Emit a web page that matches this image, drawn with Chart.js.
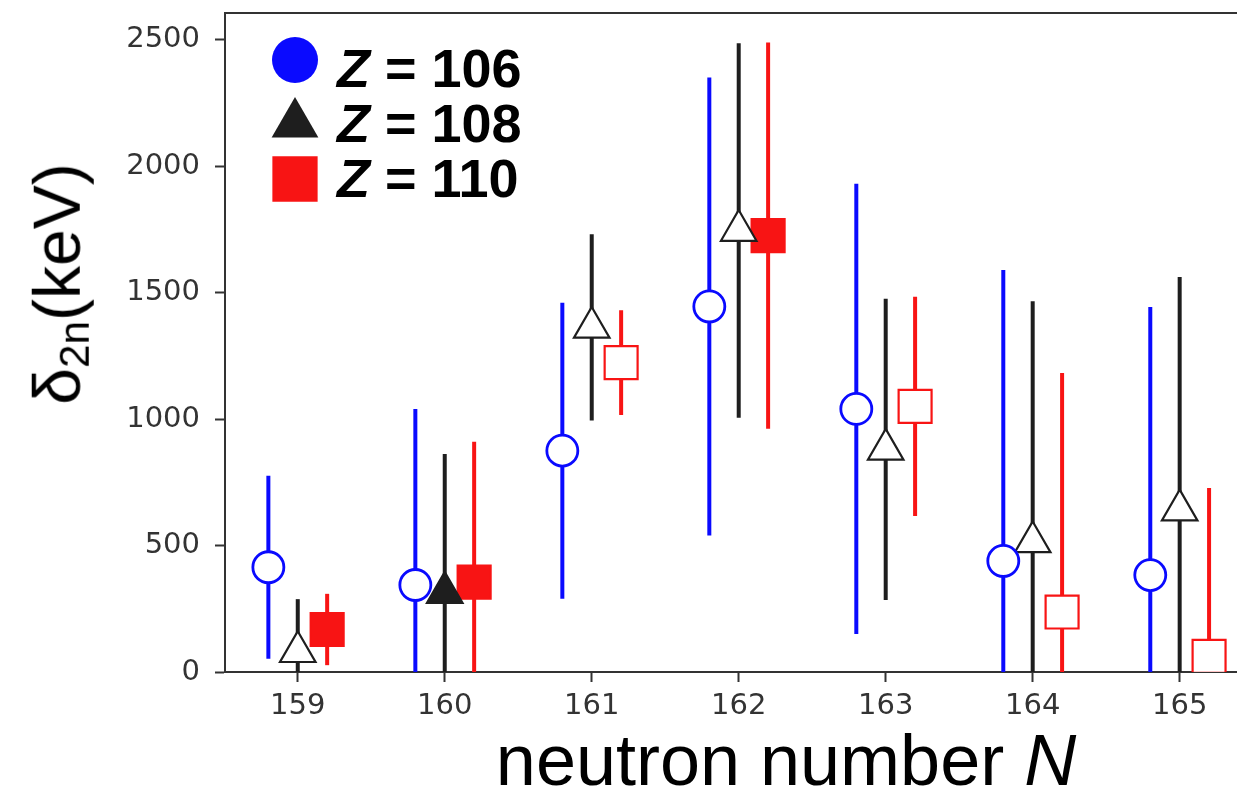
<!DOCTYPE html>
<html>
<head>
<meta charset="utf-8">
<script src="https://cdn.jsdelivr.net/npm/chart.js@4.4.1/dist/chart.umd.min.js"></script>
<style>
  html, body { margin: 0; padding: 0; background: #fff; overflow: hidden; }
  #wrap { position: relative; width: 1237px; height: 794px; }
  #chart { position: absolute; left: 0; top: 0; }
  .axis-title { position: absolute; font-family: "Liberation Sans", Arial, sans-serif; color: #000; white-space: nowrap; line-height: 1; }
  #xtitle { left: 786px; top: 724px; font-size: 72px; transform: translateX(-50%); }
  #ytitle { left: 60px; top: 284px; font-size: 66px; transform: translate(-50%, -50%) rotate(-90deg); }
  #ytitle sub { font-size: 0.64em; line-height: 1; vertical-align: -0.22em; }
</style>
</head>
<body>
<div id="wrap">
  <canvas id="chart" width="1237" height="794"></canvas>
  <div class="axis-title" id="ytitle">δ<sub>2n</sub>(keV)</div>
  <div class="axis-title" id="xtitle">neutron number <i>N</i></div>
</div>
<script>
// neutron numbers on the x axis
const neutronN = [159, 160, 161, 162, 163, 164, 165];

// delta_2n values (keV) and symmetric uncertainties
const z106 = [414, 344, 875, 1445, 1040, 439, 383];
const err106 = [362, 696, 585, 905, 890, 1150, 1060];
const z108 = [80, 314, 1362, 1745, 880, 514, 640];
const err108 = [208, 548, 368, 740, 595, 952, 921];
const z110 = [168, 355, 1223, 1725, 1050, 237, 62];
const err110 = [141, 555, 207, 763, 433, 945, 665];

// measured (filled symbol) vs. not (open symbol)
const measured106 = [false, false, false, false, false, false, false];
const measured108 = [false, true, false, false, false, false, false];
const measured110 = [true, true, false, true, false, false, false];

const seriesLabels = ['106', '108', '110'];
const yTicks = [0, 500, 1000, 1500, 2000, 2500];

const BLUE = '#0a0aff';
const BLACK = '#1e1e1e';
const RED = '#f81414';
const AXIS = '#333';

function makeSet(label, values, errs, measured, shift, color, style, radius, bw) {
    return {
        label: label,
        data: values.map((v, i) => ({ x: neutronN[i] + shift, y: v })),
        errs: errs,
        barColor: color,
        pointStyle: style,
        pointRadius: radius,
        pointHoverRadius: radius,
        pointBorderWidth: bw,
        pointBorderColor: color,
        pointBackgroundColor: measured.map(m => m ? color : '#ffffff'),
        showLine: false
    };
}

const datasets = [
    makeSet(seriesLabels[0], z106, err106, measured106, -0.2, BLUE, 'circle', 15.5, 2.8),
    makeSet(seriesLabels[1], z108, err108, measured108, 0, BLACK, 'triangle', 20.5, 2.2),
    makeSet(seriesLabels[2], z110, err110, measured110, 0.2, RED, 'rect', 23.3, 2.2)
];

// vertical error bars, drawn under the markers
const errorBars = {
    id: 'errorBars',
    beforeDatasetsDraw(chart) {
        const { ctx, chartArea, scales } = chart;
        ctx.save();
        ctx.beginPath();
        ctx.rect(chartArea.left, chartArea.top, chartArea.right - chartArea.left, chartArea.bottom - chartArea.top);
        ctx.clip();
        ctx.lineWidth = 4;
        ctx.lineCap = 'butt';
        chart.data.datasets.forEach(ds => {
            ctx.strokeStyle = ds.barColor;
            ds.data.forEach((p, i) => {
                const x = scales.x.getPixelForValue(p.x);
                const y1 = scales.y.getPixelForValue(p.y - ds.errs[i]);
                const y2 = scales.y.getPixelForValue(p.y + ds.errs[i]);
                ctx.beginPath();
                ctx.moveTo(x, y1);
                ctx.lineTo(x, y2);
                ctx.stroke();
            });
        });
        ctx.restore();
    },
    afterDraw(chart) {
        const { ctx, chartArea } = chart;
        // top frame line
        ctx.save();
        ctx.strokeStyle = AXIS;
        ctx.lineWidth = 2;
        ctx.beginPath();
        ctx.moveTo(chartArea.left - 1, chartArea.top);
        ctx.lineTo(chartArea.right, chartArea.top);
        ctx.stroke();

        // legend
        const marks = [
            { style: 'circle', color: BLUE, r: 23, y: 60, base: 87 },
            { style: 'triangle', color: BLACK, r: 27, y: 124, base: 142 },
            { style: 'rect', color: RED, r: 32, y: 179, base: 197 }
        ];
        marks.forEach((m, i) => {
            ctx.fillStyle = m.color;
            ctx.strokeStyle = m.color;
            Chart.helpers.drawPoint(ctx, { pointStyle: m.style, radius: m.r, borderWidth: 0 }, 295, m.y);
            ctx.fillStyle = '#000';
            ctx.textBaseline = 'alphabetic';
            ctx.font = 'italic bold 54px "Liberation Sans", Arial, sans-serif';
            ctx.fillText('Z', 337, m.base);
            const zw = ctx.measureText('Z').width;
            ctx.font = 'bold 54px "Liberation Sans", Arial, sans-serif';
            ctx.fillText(' = ' + seriesLabels[i], 337 + zw, m.base);
        });
        ctx.restore();
    }
};

const tickFont = { family: 'DejaVu Sans', size: 29, lineHeight: 1 };

new Chart(document.getElementById('chart').getContext('2d'), {
    type: 'scatter',
    data: { datasets: datasets },
    options: {
        responsive: false,
        animation: false,
        events: [],
        layout: { autoPadding: false, padding: { top: 13, right: 0, left: 0, bottom: 0 } },
        plugins: { legend: { display: false }, tooltip: { enabled: false } },
        scales: {
            x: {
                type: 'linear',
                min: 158.505,
                max: 165.39,
                afterBuildTicks: s => { s.ticks = neutronN.map(v => ({ value: v })); },
                afterFit: s => { s.height = 122; s.paddingLeft = 0; s.paddingRight = 0; },
                grid: { drawOnChartArea: false, drawTicks: true, tickLength: 10, tickColor: AXIS, tickWidth: 2 },
                border: { display: true, color: AXIS, width: 2 },
                ticks: { font: tickFont, color: AXIS, padding: 10, maxRotation: 0, autoSkip: false,
                         callback: v => String(v) }
            },
            y: {
                min: 0,
                max: 2605,
                afterBuildTicks: s => { s.ticks = yTicks.map(v => ({ value: v })); },
                afterFit: s => { s.width = 225; s.paddingTop = 0; s.paddingBottom = 0; },
                grid: { drawOnChartArea: false, drawTicks: true, tickLength: 10, tickColor: AXIS, tickWidth: 2 },
                border: { display: true, color: AXIS, width: 2 },
                ticks: { font: tickFont, color: AXIS, padding: 15, callback: v => String(v) }
            }
        }
    },
    plugins: [errorBars]
});
</script>
</body>
</html>
